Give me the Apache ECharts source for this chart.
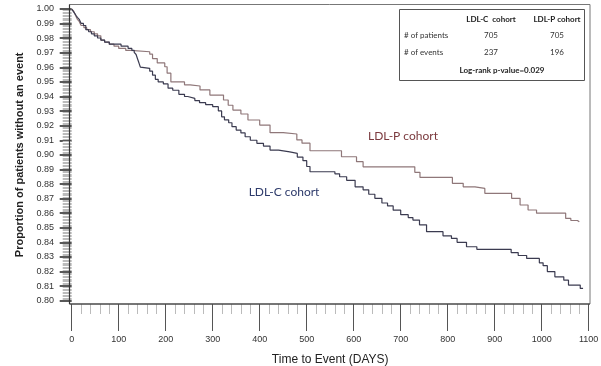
<!DOCTYPE html>
<html>
<head>
<meta charset="utf-8">
<script src="https://cdn.jsdelivr.net/npm/echarts@6/dist/echarts.min.js"></script>
<style>
html,body{margin:0;padding:0;background:#fff;}
#chart{width:601px;height:366px;}
</style>
</head>
<body>
<div id="chart"></div>
<script>
// ---- Data ----
const ldlcDays = [0,3,6,9,12,16,20,25,30,36,42,48,55,62,70,80,105,120,128,133,137,140,143,146,148,166,172,178,184,195,205,215,228,240,247,262,272,285,300,312,319,325,334,341,350,360,369,380,394,408,422,440,464,480,492,500,507,560,570,585,603,620,632,645,660,672,684,700,716,726,740,755,790,808,820,840,862,935,950,968,995,1003,1012,1028,1047,1057,1082,1088];
const ldlcSurv = [1.000,0.9986,0.9972,0.9957,0.9943,0.9929,0.9901,0.9887,0.9858,0.9844,0.9830,0.9816,0.9801,0.9787,0.9773,0.9759,0.9745,0.9730,0.9716,0.9702,0.9688,0.9659,0.9631,0.9602,0.9593,0.9574,0.9546,0.9518,0.9500,0.9486,0.9457,0.9443,0.9415,0.9400,0.9387,0.9372,0.9358,0.9344,0.9330,0.9301,0.9261,0.9240,0.9220,0.9193,0.9170,0.9150,0.9124,0.9100,0.9079,0.9060,0.9033,0.9020,0.9010,0.8985,0.8960,0.8920,0.8884,0.8870,0.8850,0.8825,0.8781,0.8760,0.8730,0.8702,0.8670,0.8650,0.8621,0.8590,0.8570,0.8553,0.8520,0.8473,0.8445,0.8427,0.8400,0.8370,0.8352,0.8330,0.8310,0.8290,0.8260,0.8240,0.8200,0.8164,0.8141,0.8107,0.8084,0.8084];

const ldlpDays = [0,4,8,12,16,20,26,32,40,48,55,62,70,80,90,100,115,125,166,172,182,198,203,211,240,252,273,294,323,333,343,360,375,400,422,450,479,490,507,574,606,620,730,741,810,833,858,879,936,954,971,989,1051,1062,1076,1080];
const ldlpSurv = [1.000,0.9986,0.9957,0.9929,0.9915,0.9887,0.9872,0.9858,0.9844,0.9830,0.9816,0.9787,0.9773,0.9759,0.9745,0.9730,0.9716,0.9707,0.9690,0.9660,0.9630,0.9604,0.9560,0.9500,0.9480,0.9472,0.9445,0.9410,0.9376,0.9340,0.9307,0.9280,0.9239,0.9204,0.9152,0.9143,0.9102,0.9080,0.9028,0.8987,0.8953,0.8918,0.8880,0.8845,0.8805,0.8781,0.8770,0.8736,0.8702,0.8656,0.8622,0.8600,0.8564,0.8550,0.8541,0.8541];

const seriesNames = ['LDL-C cohort', 'LDL-P cohort'];
const tableHeader = ['LDL-C  cohort', 'LDL-P cohort'];
const tableRowLabels = ['# of patients', '# of events'];
const tableLdlc = ['705', '237'];
const tableLdlp = ['705', '196'];
const tableFooter = 'Log-rank p-value=0.029';
const xAxisTitle = 'Time to Event (DAYS)';
const yAxisTitle = 'Proportion of patients without an event';

// ---- Chart ----
const chart = echarts.init(document.getElementById('chart'), null, {renderer: 'canvas'});
const zip = (a, b) => a.map((d, i) => [d, b[i]]);
const tableFont = 'Lato, "Liberation Sans", sans-serif';

const tableGraphics = [];
tableGraphics.push({type:'rect', shape:{x:399.5, y:9.5, width:185, height:71}, style:{fill:'#fff', stroke:'#555', lineWidth:1}, z:10});
const colX = [491, 557];
tableHeader.forEach((h, i) => tableGraphics.push({type:'text', x:colX[i], y:19, z:11, style:{text:h, font:'bold 8px ' + tableFont, fill:'#222', align:'center', verticalAlign:'middle'}}));
const rowY = [35, 52];
tableRowLabels.forEach((r, i) => {
  tableGraphics.push({type:'text', x:404, y:rowY[i], z:11, style:{text:r, font:'8px ' + tableFont, fill:'#333', align:'left', verticalAlign:'middle'}});
  tableGraphics.push({type:'text', x:colX[0], y:rowY[i], z:11, style:{text:tableLdlc[i], font:'8px ' + tableFont, fill:'#333', align:'center', verticalAlign:'middle'}});
  tableGraphics.push({type:'text', x:colX[1], y:rowY[i], z:11, style:{text:tableLdlp[i], font:'8px ' + tableFont, fill:'#333', align:'center', verticalAlign:'middle'}});
});
tableGraphics.push({type:'text', x:502, y:70, z:11, style:{text:tableFooter, font:'bold 8px ' + tableFont, fill:'#222', align:'center', verticalAlign:'middle'}});

const option = {
  animation: false,
  backgroundColor: '#fff',
  grid: {left: 71.7, right: 12.3, top: 9, bottom: 65.3, containLabel: false, outerBoundsMode: 'none'},
  xAxis: {
    type: 'value', min: 0, max: 1100, interval: 100, offset: 3.3,
    axisLine: {show: false},
    axisTick: {show: true, length: 27, lineStyle: {color: '#555', width: 1}},
    minorTick: {show: true, splitNumber: 5, length: 10, lineStyle: {color: '#bbb', width: 1}},
    splitLine: {show: false},
    axisLabel: {fontSize: 9, color: '#333', margin: 31, fontFamily: '"Liberation Sans", Arial, sans-serif',
      formatter: v => String(Math.round(v))},
    name: xAxisTitle, nameLocation: 'middle', nameGap: 50,
    nameTextStyle: {fontSize: 12, color: '#222', fontFamily: '"Liberation Sans", Arial, sans-serif'}
  },
  yAxis: {
    type: 'value', min: 0.8, max: 1.0, interval: 0.01, offset: 2.7,
    axisLine: {show: false},
    axisTick: {show: true, length: 12, lineStyle: {color: '#222', width: 1.5}},
    minorTick: {show: true, splitNumber: 10, length: 9, lineStyle: {color: '#bbb', width: 1}},
    splitLine: {show: false},
    axisLabel: {fontSize: 9, color: '#333', margin: 15, fontFamily: '"Liberation Sans", Arial, sans-serif',
      formatter: v => v.toFixed(2)},
    name: yAxisTitle, nameLocation: 'middle', nameGap: 35, nameRotate: 90,
    nameTextStyle: {fontSize: 11, fontWeight: 'bold', color: '#222', fontFamily: '"Liberation Sans", Arial, sans-serif'}
  },
  series: [
    {name: seriesNames[1], type: 'line', step: 'end', showSymbol: false, data: zip(ldlpDays, ldlpSurv),
      lineStyle: {color: '#8f7779', width: 1.2}, z: 2},
    {name: seriesNames[0], type: 'line', step: 'end', showSymbol: false, data: zip(ldlcDays, ldlcSurv),
      lineStyle: {color: '#3b3b50', width: 1.2}, z: 3}
  ],
  graphic: [
    {type: 'rect', shape: {x: 69.5, y: 4.5, width: 520.5, height: 299.5}, style: {fill: null, stroke: '#777', lineWidth: 1}, silent: true, z: 5},
    {type: 'line', shape: {x1: 69.5, y1: 4.5, x2: 69.5, y2: 304}, style: {stroke: '#333', lineWidth: 1.2}, z: 6},
    {type: 'line', shape: {x1: 69.5, y1: 304, x2: 590, y2: 304}, style: {stroke: '#333', lineWidth: 1.2}, z: 6},
    {type: 'text', x: 403, y: 136, z: 7, style: {text: seriesNames[1], font: '12px ' + tableFont, fill: '#7b3a3e', align: 'center', verticalAlign: 'middle'}},
    {type: 'text', x: 284, y: 192, z: 7, style: {text: seriesNames[0], font: '12px ' + tableFont, fill: '#2e3b6b', align: 'center', verticalAlign: 'middle'}},
    ...tableGraphics
  ]
};
chart.setOption(option);
</script>
</body>
</html>
